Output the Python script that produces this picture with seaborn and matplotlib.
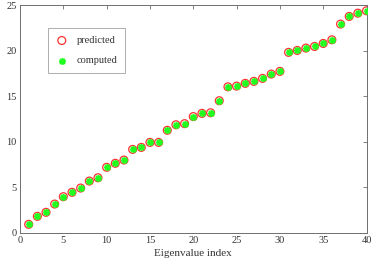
import matplotlib
matplotlib.use("Agg")
import matplotlib.pyplot as plt
import numpy as np
import pandas as pd
import seaborn as sns

# eigenvalue index and values
index = list(range(1, 41))
predicted = [0.93, 1.81, 2.25, 3.16, 3.97, 4.45, 4.92, 5.69, 6.05, 7.20,
             7.64, 8.00, 9.17, 9.39, 9.94, 9.94, 11.27, 11.88, 12.00, 12.78,
             13.13, 13.20, 14.52, 16.05, 16.13, 16.43, 16.65, 16.98, 17.45, 17.75,
             19.84, 20.05, 20.31, 20.49, 20.82, 21.22, 22.95, 23.79, 24.15, 24.41]
computed = list(predicted)
xticks = [0, 5, 10, 15, 20, 25, 30, 35, 40]
yticks = [0, 5, 10, 15, 20, 25]

RED = "#ff3030"
GREEN = "#20ff20"
AXC = "#6e6e6e"
TXT = "#333333"

sns.set_style("white")
plt.rcParams["font.family"] = ["Liberation Serif", "DejaVu Serif"]

df = pd.DataFrame({"idx": index, "predicted": predicted, "computed": computed})

fig = plt.figure(figsize=(3.74, 2.71), dpi=100)
ax = fig.add_axes([0.0535, 0.141, 0.9265, 0.839])

sns.scatterplot(data=df, x="idx", y="predicted", ax=ax, marker="o", s=32,
                facecolor="none", edgecolor=RED, linewidth=0.9, label="predicted", zorder=3)
sns.scatterplot(data=df, x="idx", y="computed", ax=ax, marker=(8, 2, 0), s=15,
                color=GREEN, edgecolor=GREEN, linewidth=1.3, label="computed", zorder=4)

ax.set_xlim(0, 40)
ax.set_ylim(0, 25)
ax.set_xticks(xticks)
ax.set_yticks(yticks)
ax.set_xlabel("Eigenvalue index", fontsize=8, color=TXT, labelpad=3)
ax.set_ylabel("")
ax.tick_params(direction="in", length=3, width=0.6, color=AXC, labelsize=7.5,
               labelcolor=TXT, top=True, right=True, pad=2.5)
for s in ax.spines.values():
    s.set_visible(True)
    s.set_color(AXC)
    s.set_linewidth(0.7)

leg = ax.legend(loc="upper left", bbox_to_anchor=(0.08, 0.9), fontsize=7.5,
                frameon=True, fancybox=False, edgecolor="#999999",
                borderpad=0.75, labelspacing=1.05, handletextpad=0.8,
                handlelength=1.2, borderaxespad=0)
leg.get_frame().set_linewidth(0.7)
for t in leg.get_texts():
    t.set_color(TXT)

fig.savefig("out.png", dpi=100)
